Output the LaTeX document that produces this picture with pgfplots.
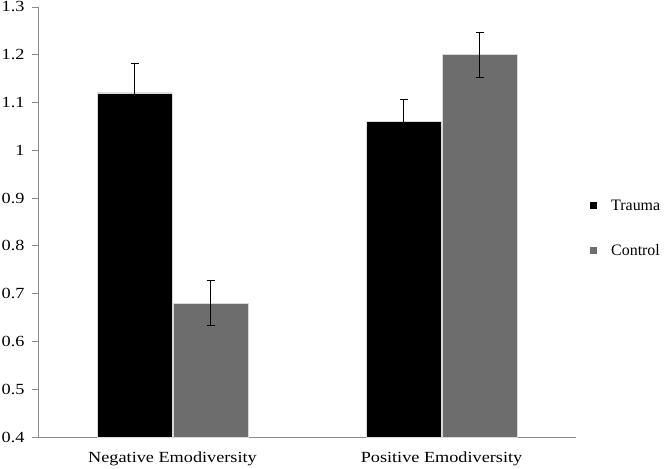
\documentclass[border=0pt]{standalone}
\usepackage{fontspec}
\setmainfont{Liberation Serif}
\newfontfamily\wideserif[FakeStretch=1.18]{Liberation Serif}
\usepackage{pgfplots}
\pgfplotsset{compat=1.18}
\definecolor{ctrl}{HTML}{6D6D6D}
\definecolor{axgray}{HTML}{8C8C8C}
\begin{document}
\begin{tikzpicture}
\useasboundingbox (-38bp,-32bp) rectangle (631bp,437bp);
\begin{axis}[
  at={(0,0)}, anchor=south west,
  scale only axis, width=538bp, height=430bp,
  ybar, bar width=75bp,
  xmin=-0.5, xmax=1.5,
  ymin=0.4, ymax=1.3,
  ytick={0.4,0.5,...,1.3},
  yticklabels={0.4,0.5,0.6,0.7,0.8,0.9,1,1.1,1.2,1.3},
  xtick={0,1}, xticklabels={Negative Emodiversity, Positive Emodiversity},
  extra x ticks={-0.5,0.5,1.5}, extra x tick labels={},
  extra x tick style={major tick length=6bp, tick style={axgray, line width=0.8pt}},
  x tick style={draw=none},
  y tick style={axgray, line width=0.8pt},
  major tick length=6bp,
  tick align=outside,
  axis x line*=bottom, axis y line*=left,
  axis line style={axgray, line width=0.8pt, -},
  ticklabel style={font=\wideserif\fontsize{15.5}{17}\selectfont},
  yticklabel style={xshift=-4bp},
  xticklabel style={yshift=-5bp},
  legend style={draw=none, fill=none, at={(1.026,0.485)}, anchor=west,
    font=\fontsize{16}{18}\selectfont, row sep=29bp, inner sep=0pt},
  legend cell align=left,
  legend image code/.code={\fill[#1, draw=none] (0bp,-3.5bp) rectangle (7bp,3.5bp); \path[draw=none, fill=none] (0bp,0bp) -- (19bp,0bp);},
  error bars/error bar style={black, line width=0.8pt},
  error bars/error mark options={black, line width=0.8pt, rotate=90, mark size=4bp},
]
\addplot+[bar shift=-38bp, fill=black, draw=black!15, line width=0.8pt,
  error bars/.cd, y dir=both, y explicit]
  coordinates {(0,1.12) +- (0,0.062) (1,1.06) +- (0,0.047)};
\addplot+[bar shift=38bp, fill=ctrl, draw=black!15, line width=0.8pt,
  error bars/.cd, y dir=both, y explicit]
  coordinates {(0,0.68) +- (0,0.047) (1,1.2) +- (0,0.047)};
\legend{Trauma, Control}
\end{axis}
\end{tikzpicture}
\end{document}
